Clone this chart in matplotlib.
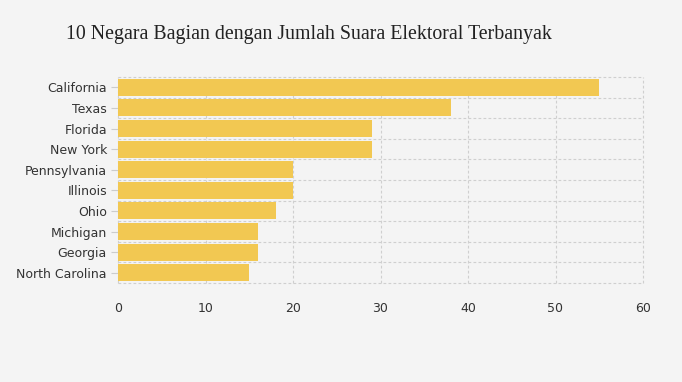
import numpy as np
import matplotlib.pyplot as plt

states = ['California', 'Texas', 'Florida', 'New York', 'Pennsylvania',
          'Illinois', 'Ohio', 'Michigan', 'Georgia', 'North Carolina']
votes = [55, 38, 29, 29, 20, 20, 18, 16, 16, 15]
xticks = [0, 10, 20, 30, 40, 50, 60]

bg = '#f4f4f4'
bar_color = '#f2c852'
grid_color = '#cfcfcf'

fig = plt.figure(figsize=(6.82, 3.82), dpi=100, facecolor=bg)
ax = fig.add_axes([118 / 682, 1 - 283 / 382, 525 / 682, 206 / 382], facecolor=bg)

pos = np.arange(len(states))
ax.barh(pos, votes, height=0.82, color=bar_color, zorder=3)

ax.set_xlim(0, 60)
ax.set_ylim(len(states) - 0.5, -0.5)

# dashed grid, vertical at ticks, horizontal between categories
for x in xticks:
    ax.axvline(x, color=grid_color, ls=(0, (2.5, 2)), lw=0.8, zorder=1, clip_on=False)
for y in np.arange(-0.5, len(states), 1.0):
    ax.axhline(y, color=grid_color, ls=(0, (2.5, 2)), lw=0.8, zorder=1, clip_on=False)

for s in ax.spines.values():
    s.set_visible(False)

ax.set_xticks(xticks)
ax.set_xticklabels([str(x) for x in xticks])
ax.set_yticks(pos)
ax.set_yticklabels(states)
ax.tick_params(axis='x', length=0, pad=14, labelsize=9, labelcolor='#333333')
ax.tick_params(axis='y', length=5, width=0.8, color='#cccccc', pad=3,
               labelsize=9, labelcolor='#333333')

fig.text(66 / 682, 1 - 34 / 382, '10 Negara Bagian dengan Jumlah Suara Elektoral Terbanyak',
         family='Liberation Serif', fontsize=14.3, color='#222222', va='center', ha='left')

fig.savefig('out.png', dpi=100, facecolor=bg)
